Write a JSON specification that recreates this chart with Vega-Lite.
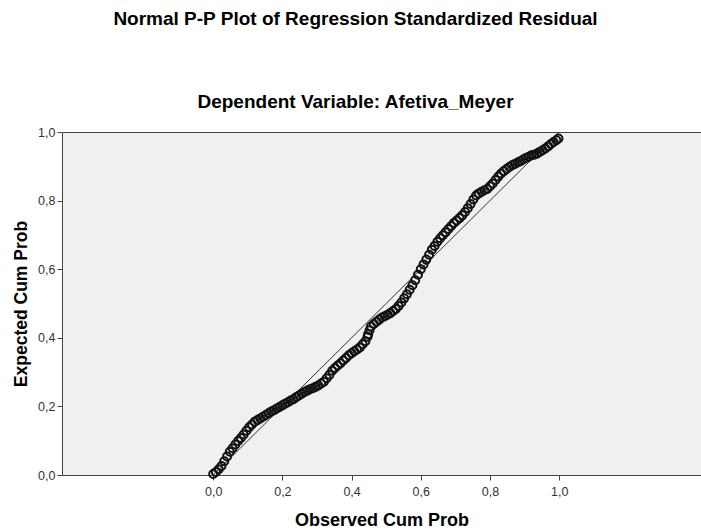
{
  "$schema": "https://vega.github.io/schema/vega-lite/v6.json",
  "autosize": "none",
  "width": 639,
  "height": 343,
  "padding": {"left": 62, "top": 132, "right": 0, "bottom": 55},
  "background": "white",
  "config": {
    "font": "Liberation Sans",
    "view": {"fill": "#f0f0f0", "stroke": "#444", "strokeWidth": 1}
  },
  "title": {
    "text": "Normal P-P Plot of Regression Standardized Residual",
    "subtitle": "Dependent Variable: Afetiva_Meyer",
    "fontSize": 19,
    "fontWeight": "bold",
    "subtitleFontSize": 19,
    "subtitleFontWeight": "bold",
    "subtitleColor": "#000",
    "color": "#000",
    "subtitlePadding": 64,
    "offset": 14,
    "dx": -26,
    "anchor": "middle",
    "frame": "group"
  },
  "data": {"values": [
    {"obs":0.000,"exp":0.003},{"obs":0.008,"exp":0.009},{"obs":0.016,"exp":0.017},{"obs":0.024,"exp":0.026},{"obs":0.032,"exp":0.040},{"obs":0.040,"exp":0.054},{"obs":0.048,"exp":0.068},{"obs":0.056,"exp":0.078},{"obs":0.064,"exp":0.089},{"obs":0.072,"exp":0.099},{"obs":0.080,"exp":0.108},{"obs":0.088,"exp":0.118},{"obs":0.096,"exp":0.129},{"obs":0.104,"exp":0.139},{"obs":0.112,"exp":0.147},{"obs":0.120,"exp":0.155},{"obs":0.128,"exp":0.160},{"obs":0.136,"exp":0.165},{"obs":0.144,"exp":0.170},{"obs":0.152,"exp":0.175},{"obs":0.160,"exp":0.180},{"obs":0.168,"exp":0.185},{"obs":0.176,"exp":0.189},{"obs":0.184,"exp":0.194},{"obs":0.192,"exp":0.198},{"obs":0.200,"exp":0.203},{"obs":0.208,"exp":0.208},{"obs":0.216,"exp":0.212},{"obs":0.224,"exp":0.217},{"obs":0.232,"exp":0.221},{"obs":0.240,"exp":0.227},{"obs":0.248,"exp":0.232},{"obs":0.256,"exp":0.237},{"obs":0.264,"exp":0.242},{"obs":0.272,"exp":0.246},{"obs":0.280,"exp":0.250},{"obs":0.288,"exp":0.253},{"obs":0.296,"exp":0.257},{"obs":0.304,"exp":0.261},{"obs":0.312,"exp":0.267},{"obs":0.320,"exp":0.272},{"obs":0.328,"exp":0.282},{"obs":0.336,"exp":0.292},{"obs":0.344,"exp":0.304},{"obs":0.352,"exp":0.312},{"obs":0.360,"exp":0.319},{"obs":0.368,"exp":0.326},{"obs":0.376,"exp":0.334},{"obs":0.384,"exp":0.341},{"obs":0.392,"exp":0.349},{"obs":0.400,"exp":0.355},{"obs":0.408,"exp":0.361},{"obs":0.416,"exp":0.366},{"obs":0.424,"exp":0.372},{"obs":0.432,"exp":0.381},{"obs":0.440,"exp":0.390},{"obs":0.446,"exp":0.403},{"obs":0.448,"exp":0.410},{"obs":0.452,"exp":0.422},{"obs":0.456,"exp":0.433},{"obs":0.464,"exp":0.440},{"obs":0.472,"exp":0.447},{"obs":0.480,"exp":0.453},{"obs":0.488,"exp":0.459},{"obs":0.496,"exp":0.463},{"obs":0.504,"exp":0.467},{"obs":0.512,"exp":0.472},{"obs":0.520,"exp":0.478},{"obs":0.528,"exp":0.484},{"obs":0.536,"exp":0.493},{"obs":0.544,"exp":0.503},{"obs":0.552,"exp":0.515},{"obs":0.560,"exp":0.527},{"obs":0.568,"exp":0.540},{"obs":0.576,"exp":0.553},{"obs":0.584,"exp":0.568},{"obs":0.592,"exp":0.584},{"obs":0.600,"exp":0.600},{"obs":0.608,"exp":0.614},{"obs":0.616,"exp":0.628},{"obs":0.624,"exp":0.642},{"obs":0.632,"exp":0.657},{"obs":0.640,"exp":0.668},{"obs":0.648,"exp":0.680},{"obs":0.656,"exp":0.690},{"obs":0.664,"exp":0.699},{"obs":0.672,"exp":0.708},{"obs":0.680,"exp":0.717},{"obs":0.688,"exp":0.726},{"obs":0.696,"exp":0.735},{"obs":0.704,"exp":0.742},{"obs":0.712,"exp":0.749},{"obs":0.720,"exp":0.757},{"obs":0.728,"exp":0.767},{"obs":0.736,"exp":0.778},{"obs":0.744,"exp":0.790},{"obs":0.752,"exp":0.803},{"obs":0.760,"exp":0.815},{"obs":0.768,"exp":0.821},{"obs":0.776,"exp":0.826},{"obs":0.784,"exp":0.830},{"obs":0.792,"exp":0.834},{"obs":0.800,"exp":0.842},{"obs":0.808,"exp":0.850},{"obs":0.816,"exp":0.860},{"obs":0.824,"exp":0.870},{"obs":0.832,"exp":0.879},{"obs":0.840,"exp":0.886},{"obs":0.848,"exp":0.892},{"obs":0.856,"exp":0.898},{"obs":0.864,"exp":0.903},{"obs":0.872,"exp":0.907},{"obs":0.880,"exp":0.911},{"obs":0.888,"exp":0.915},{"obs":0.896,"exp":0.920},{"obs":0.904,"exp":0.924},{"obs":0.912,"exp":0.928},{"obs":0.920,"exp":0.932},{"obs":0.928,"exp":0.934},{"obs":0.936,"exp":0.937},{"obs":0.944,"exp":0.942},{"obs":0.952,"exp":0.947},{"obs":0.960,"exp":0.952},{"obs":0.968,"exp":0.958},{"obs":0.976,"exp":0.965},{"obs":0.984,"exp":0.971},{"obs":0.992,"exp":0.976},{"obs":0.998,"exp":0.981}
  ]},
  "layer": [
    {
      "data": {"values": [{"obs": 0, "exp": 0}, {"obs": 1, "exp": 1}]},
      "mark": {"type": "line", "color": "#333", "strokeWidth": 1},
      "encoding": {
        "x": {"field": "obs", "type": "quantitative"},
        "y": {"field": "exp", "type": "quantitative"}
      }
    },
    {
      "mark": {"type": "point", "shape": "circle", "filled": false, "stroke": "#111", "strokeWidth": 2, "size": 64, "opacity": 1},
      "encoding": {
        "x": {
          "field": "obs", "type": "quantitative",
          "scale": {"domain": [-0.437, 1.41], "nice": false, "zero": false},
          "axis": {
            "title": "Observed Cum Prob",
            "values": [0, 0.2, 0.4, 0.6, 0.8, 1.0],
            "labelExpr": "replace(format(datum.value, '.1f'), '.', ',')",
            "grid": false,
            "domainColor": "#444",
            "tickColor": "#444",
            "tickSize": 5,
            "labelFontSize": 12.5,
            "labelColor": "#333",
            "labelPadding": 5,
            "titleFontSize": 18,
            "titleFontWeight": "bold",
            "titleColor": "#000",
            "titlePadding": 14
          }
        },
        "y": {
          "field": "exp", "type": "quantitative",
          "scale": {"domain": [0, 1], "nice": false},
          "axis": {
            "title": "Expected Cum Prob",
            "values": [0, 0.2, 0.4, 0.6, 0.8, 1.0],
            "labelExpr": "replace(format(datum.value, '.1f'), '.', ',')",
            "grid": false,
            "domainColor": "#444",
            "tickColor": "#444",
            "tickSize": 5,
            "labelFontSize": 12.5,
            "labelColor": "#333",
            "labelPadding": 2,
            "titleFontSize": 17.5,
            "titleFontWeight": "bold",
            "titleColor": "#000",
            "titlePadding": 7
          }
        }
      }
    }
  ]
}
